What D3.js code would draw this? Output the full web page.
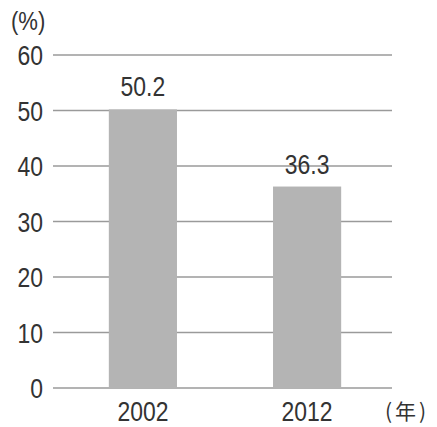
<!DOCTYPE html>
<html lang="ja">
  <head>
    <meta charset="UTF-8" />
    <title>2002 / 2012</title>
    <style>
      body {
        margin: 0;
        background: #ffffff;
      }
      text {
        font-family: "Liberation Sans", Arial, sans-serif;
        fill: #333333;
      }
    </style>
  </head>
  <body>
    <div id="chart"></div>
    <script src="https://d3js.org/d3.v7.min.js"></script>
    <script>
      const years = ["2002", "2012"];
      const values = [50.2, 36.3];
      const yTicks = [0, 10, 20, 30, 40, 50, 60];

      const width = 437;
      const height = 427;
      const gridLeft = 53;
      const gridRight = 392;
      const squeeze = 0.85; // the original type is a condensed face

      const svg = d3
        .select("#chart")
        .append("svg")
        .attr("width", width)
        .attr("height", height);

      const y = d3.scaleLinear().domain([0, 60]).range([388, 55]);
      const x = d3
        .scaleBand()
        .domain(years)
        .range([gridLeft, 397])
        .paddingInner(0.585)
        .paddingOuter(0.34);

      // narrow text placed at (tx, ty)
      function label(tx, ty, str, anchor, size) {
        svg
          .append("text")
          .attr("transform", `translate(${tx},${ty}) scale(${squeeze},1)`)
          .attr("text-anchor", anchor)
          .attr("font-size", size)
          .text(str);
      }

      // grid lines
      svg
        .selectAll("line.grid")
        .data(yTicks)
        .enter()
        .append("line")
        .attr("class", "grid")
        .attr("x1", gridLeft)
        .attr("x2", gridRight)
        .attr("y1", (d) => y(d))
        .attr("y2", (d) => y(d))
        .attr("stroke", "#9a9a9a")
        .attr("stroke-width", 1.5);

      yTicks.forEach((d) => label(43, y(d) + 10, d, "end", 27));
      label(11, 30, "(%)", "start", 26);

      // bars
      svg
        .selectAll("rect.bar")
        .data(values)
        .enter()
        .append("rect")
        .attr("class", "bar")
        .attr("x", (d, i) => x(years[i]))
        .attr("y", (d) => y(d))
        .attr("width", x.bandwidth())
        .attr("height", (d) => y(0) - y(d))
        .attr("fill", "#b4b4b4");

      values.forEach((d, i) =>
        label(x(years[i]) + x.bandwidth() / 2, y(d) - 13, d.toFixed(1), "middle", 27)
      );

      years.forEach((d) =>
        label(x(d) + x.bandwidth() / 2, 421, d, "middle", 27)
      );

      svg
        .append("text")
        .attr("x", 385)
        .attr("y", 419)
        .attr("font-size", 21)
        .attr("letter-spacing", 3)
        .style("font-family", "'Noto Sans CJK JP', sans-serif")
        .text("(年)");
    </script>
  </body>
</html>
